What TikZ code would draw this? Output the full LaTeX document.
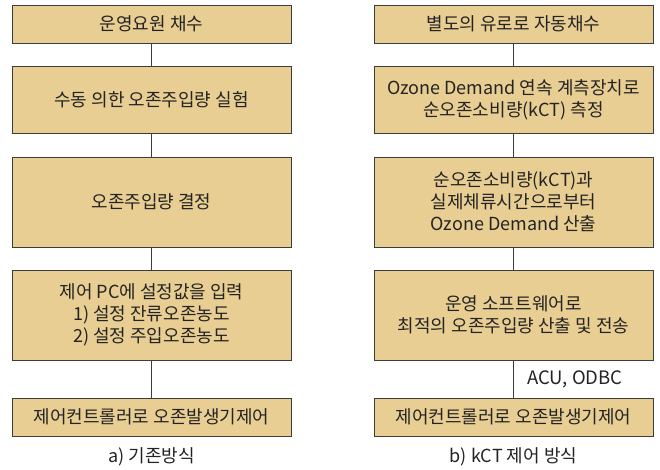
\documentclass[tikz,border=0pt]{standalone}
\usepackage{fontspec}
\setmainfont{Noto Sans CJK KR}
\definecolor{boxfill}{RGB}{233,206,147}
\definecolor{boxline}{RGB}{60,60,60}
\definecolor{txt}{RGB}{35,35,35}
\begin{document}
\begin{tikzpicture}[x=1pt,y=-1pt,
  flowbox/.style={draw=boxline,line width=0.9pt,fill=boxfill,minimum width=279pt,inner sep=0pt,align=center,text=txt,font=\fontsize{18}{22}\selectfont},
  link/.style={draw=boxline,line width=0.7pt},
  caption/.style={text=txt,font=\fontsize{18}{22}\selectfont}]
\useasboundingbox (0,0) rectangle (660,470);
% left column
\node[flowbox,minimum height=38pt] (a1) at (151.5,24) {운영요원 채수};
\node[flowbox,minimum height=67pt] (a2) at (151.5,99.5) {수동 의한 오존주입량 실험};
\node[flowbox,minimum height=90pt] (a3) at (151.5,202) {오존주입량 결정};
\node[flowbox,minimum height=90pt] (a4) at (151.5,315) {제어 PC에 설정값을 입력\\1) 설정 잔류오존농도\\2) 설정 주입오존농도};
\node[flowbox,minimum height=38pt] (a5) at (151.5,417) {제어컨트롤러로 오존발생기제어};
\node[caption] (ca) at (151.5,457) {a) 기존방식};
\draw[link] (a1) -- (a2);
\draw[link] (a2) -- (a3);
\draw[link] (a3) -- (a4);
\draw[link] (a4) -- (a5);
% right column
\node[flowbox,minimum height=38pt] (b1) at (513.5,24) {별도의 유로로 자동채수};
\node[flowbox,minimum height=67pt] (b2) at (513.5,99.5) {Ozone Demand 연속 계측장치로\\순오존소비량(kCT) 측정};
\node[flowbox,minimum height=90pt] (b3) at (513.5,202) {순오존소비량(kCT)과\\실제체류시간으로부터\\Ozone Demand 산출};
\node[flowbox,minimum height=90pt] (b4) at (513.5,315) {운영 소프트웨어로\\최적의 오존주입량 산출 및 전송};
\node[flowbox,minimum height=38pt] (b5) at (513.5,417) {제어컨트롤러로 오존발생기제어};
\node[caption] (cb) at (513.5,457) {b) kCT 제어 방식};
\draw[link] (b1) -- (b2);
\draw[link] (b2) -- (b3);
\draw[link] (b3) -- (b4);
\draw[link] (b4) -- node[right=10pt,text=txt,font=\fontsize{18.5}{22}\selectfont] (lbl) {ACU, ODBC} (b5);
\end{tikzpicture}
\end{document}
